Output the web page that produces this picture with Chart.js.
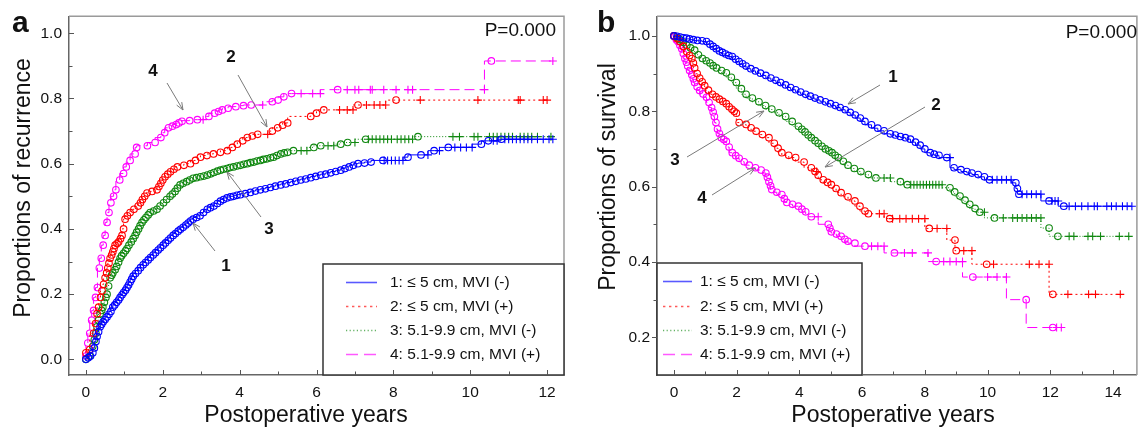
<!DOCTYPE html>
<html><head><meta charset="utf-8">
<script src="https://cdn.jsdelivr.net/npm/chart.js@4.4.1/dist/chart.umd.min.js"></script>
<style>
html,body{margin:0;padding:0;background:#fff;}
body{width:1142px;height:431px;overflow:hidden;position:relative;}
#ca{position:absolute;left:0;top:0;}
#cb{position:absolute;left:580px;top:0;}
</style></head>
<body>
<canvas id="ca" width="580" height="431"></canvas>
<canvas id="cb" width="562" height="431"></canvas>
<script>
// ---------- Panel a: recurrence (events as [years, proportion]; censored times) ----------
const aXTicks = [0, 2, 4, 6, 8, 10, 12];
const aYTicks = [0.0, 0.2, 0.4, 0.6, 0.8, 1.0];
// 1: <=5 cm, MVI (-)
const a1Events = [[0,0],[0.06,0.005],[0.12,0.01],[0.18,0.02],[0.22,0.035],[0.26,0.055],[0.29,0.07],[0.33,0.085],[0.37,0.10],[0.41,0.108],[0.45,0.115],[0.5,0.122],[0.55,0.13],[0.6,0.138],[0.65,0.147],[0.7,0.16],[0.75,0.167],[0.8,0.175],[0.85,0.182],[0.89,0.19],[0.94,0.198],[0.98,0.205],[1.03,0.212],[1.07,0.22],[1.11,0.228],[1.15,0.237],[1.19,0.246],[1.23,0.255],[1.29,0.263],[1.36,0.272],[1.42,0.281],[1.49,0.29],[1.55,0.297],[1.62,0.305],[1.68,0.312],[1.75,0.32],[1.81,0.327],[1.88,0.335],[1.94,0.342],[2.01,0.35],[2.07,0.357],[2.14,0.365],[2.2,0.372],[2.27,0.38],[2.33,0.386],[2.4,0.393],[2.46,0.399],[2.53,0.405],[2.6,0.412],[2.66,0.418],[2.72,0.424],[2.79,0.43],[2.88,0.435],[2.97,0.44],[3.06,0.45],[3.16,0.46],[3.24,0.465],[3.33,0.47],[3.42,0.478],[3.5,0.485],[3.58,0.49],[3.67,0.495],[3.76,0.498],[3.84,0.5],[3.93,0.503],[4.02,0.505],[4.15,0.508],[4.28,0.512],[4.41,0.516],[4.54,0.52],[4.67,0.523],[4.8,0.527],[4.93,0.531],[5.07,0.535],[5.2,0.538],[5.33,0.542],[5.46,0.546],[5.59,0.55],[5.72,0.553],[5.85,0.557],[5.98,0.561],[6.11,0.565],[6.24,0.568],[6.37,0.572],[6.5,0.576],[6.63,0.58],[6.74,0.585],[6.85,0.59],[6.96,0.595],[7.08,0.60],[7.25,0.602],[7.42,0.605],[7.73,0.61],[8.38,0.62],[8.72,0.627],[9.06,0.64],[9.43,0.65],[10.29,0.66],[10.47,0.67],[10.81,0.675]];
const a1Cens = [7.76,7.85,7.95,8.05,8.15,8.25,8.9,9.2,9.6,9.75,9.9,10.05,10.6,10.7,10.9,11.0,11.1,11.2,11.3,11.4,11.5,11.6,11.75,11.9,12.05,12.15];
// 2: <=5 cm, MVI (+)
const a2Events = [[0,0.02],[0.1,0.03],[0.2,0.08],[0.25,0.11],[0.29,0.14],[0.33,0.16],[0.38,0.19],[0.42,0.21],[0.46,0.23],[0.5,0.25],[0.54,0.265],[0.57,0.28],[0.6,0.295],[0.63,0.31],[0.67,0.32],[0.7,0.33],[0.73,0.34],[0.76,0.35],[0.81,0.355],[0.85,0.36],[0.9,0.37],[0.94,0.38],[0.98,0.40],[1.02,0.43],[1.08,0.44],[1.15,0.45],[1.25,0.46],[1.36,0.47],[1.42,0.48],[1.47,0.49],[1.53,0.50],[1.59,0.51],[1.72,0.515],[1.85,0.52],[1.9,0.53],[1.95,0.54],[2.0,0.55],[2.06,0.56],[2.13,0.568],[2.2,0.575],[2.29,0.583],[2.38,0.59],[2.55,0.595],[2.72,0.60],[2.85,0.61],[2.98,0.62],[3.15,0.625],[3.32,0.63],[3.5,0.635],[3.68,0.64],[3.81,0.65],[3.94,0.66],[4.08,0.67],[4.2,0.68],[4.33,0.685],[4.47,0.69],[4.85,0.70],[4.99,0.71],[5.12,0.718],[5.25,0.725],[5.85,0.745],[6.0,0.755],[6.19,0.765],[7.08,0.78],[8.07,0.795]];
const a2Cens = [4.73,6.6,6.8,6.95,7.3,7.5,7.65,7.8,8.7,10.2,11.25,11.3,11.9,12.0];
// 3: 5.1-9.9 cm, MVI (-)
const a3Events = [[0,0],[0.1,0.01],[0.18,0.04],[0.22,0.06],[0.26,0.08],[0.29,0.10],[0.33,0.12],[0.37,0.14],[0.41,0.15],[0.44,0.16],[0.48,0.175],[0.52,0.19],[0.55,0.20],[0.59,0.225],[0.63,0.25],[0.67,0.258],[0.7,0.265],[0.76,0.275],[0.8,0.285],[0.85,0.298],[0.89,0.31],[0.93,0.318],[0.98,0.325],[1.03,0.333],[1.07,0.34],[1.12,0.35],[1.18,0.36],[1.23,0.37],[1.28,0.38],[1.32,0.39],[1.37,0.40],[1.41,0.41],[1.46,0.42],[1.51,0.428],[1.56,0.435],[1.62,0.443],[1.67,0.45],[1.76,0.455],[1.85,0.46],[1.93,0.47],[2.02,0.48],[2.1,0.49],[2.19,0.50],[2.25,0.507],[2.32,0.515],[2.38,0.525],[2.45,0.535],[2.53,0.54],[2.62,0.545],[2.7,0.55],[2.79,0.555],[2.88,0.557],[2.98,0.56],[3.07,0.562],[3.16,0.565],[3.25,0.569],[3.33,0.573],[3.42,0.577],[3.5,0.58],[3.58,0.583],[3.67,0.585],[3.75,0.588],[3.84,0.59],[3.93,0.593],[4.02,0.595],[4.11,0.598],[4.2,0.60],[4.28,0.603],[4.37,0.605],[4.45,0.608],[4.54,0.61],[4.62,0.613],[4.71,0.615],[4.8,0.618],[4.88,0.62],[4.97,0.625],[5.07,0.63],[5.16,0.633],[5.25,0.635],[5.4,0.64],[5.93,0.65],[6.11,0.655],[6.63,0.66],[6.81,0.665],[7.28,0.675],[8.64,0.683]];
const a3Cens = [5.6,5.75,6.3,6.45,7.0,7.35,7.45,7.55,7.65,7.75,7.85,7.95,8.1,8.2,8.3,8.4,8.5,9.55,9.72,10.1,10.2,10.5,10.6,10.7,10.8,10.9,11.0,11.1,11.3,11.4,11.5,11.6,11.75,12.1];
// 4: 5.1-9.9 cm, MVI (+)
const a4Events = [[0,0.01],[0.05,0.05],[0.1,0.08],[0.15,0.12],[0.2,0.15],[0.25,0.19],[0.3,0.22],[0.35,0.28],[0.4,0.31],[0.45,0.35],[0.5,0.38],[0.55,0.42],[0.6,0.45],[0.65,0.48],[0.72,0.50],[0.78,0.52],[0.88,0.55],[0.98,0.57],[1.05,0.59],[1.15,0.61],[1.28,0.63],[1.32,0.65],[1.6,0.655],[1.8,0.665],[1.95,0.68],[2.05,0.695],[2.15,0.71],[2.25,0.715],[2.35,0.72],[2.42,0.725],[2.5,0.73],[2.7,0.732],[2.9,0.735],[3.2,0.745],[3.35,0.755],[3.45,0.76],[3.55,0.765],[3.7,0.77],[3.9,0.775],[4.1,0.778],[4.3,0.78],[4.85,0.79],[5.0,0.795],[5.15,0.805],[5.35,0.815],[6.55,0.827],[10.55,0.915]];
const a4Cens = [3.05,4.6,5.6,5.9,6.1,6.8,7.0,7.1,7.4,7.45,7.75,8.07,8.38,8.5,10.37,12.15];

// ---------- Panel b: survival ----------
const bXTicks = [0, 2, 4, 6, 8, 10, 12, 14];
const bYTicks = [0.2, 0.4, 0.6, 0.8, 1.0];
const b1Events = [[0,1.0],[0.1,0.999],[0.2,0.997],[0.3,0.995],[0.4,0.994],[0.5,0.992],[0.62,0.99],[0.75,0.988],[0.9,0.987],[1.04,0.985],[1.15,0.978],[1.25,0.972],[1.35,0.966],[1.45,0.96],[1.55,0.956],[1.65,0.952],[1.75,0.948],[1.86,0.945],[1.97,0.938],[2.08,0.932],[2.19,0.926],[2.3,0.92],[2.45,0.913],[2.6,0.907],[2.76,0.901],[2.93,0.895],[3.09,0.888],[3.25,0.882],[3.4,0.876],[3.56,0.87],[3.72,0.863],[3.88,0.857],[4.04,0.851],[4.2,0.845],[4.35,0.84],[4.5,0.835],[4.66,0.83],[4.83,0.825],[4.99,0.82],[5.15,0.815],[5.3,0.81],[5.46,0.804],[5.62,0.797],[5.78,0.79],[5.94,0.782],[6.09,0.773],[6.3,0.764],[6.5,0.755],[6.7,0.748],[6.9,0.74],[7.06,0.737],[7.22,0.733],[7.38,0.73],[7.54,0.726],[7.7,0.718],[7.85,0.71],[8.0,0.70],[8.17,0.69],[8.3,0.686],[8.45,0.683],[8.7,0.677],[8.93,0.65],[9.15,0.645],[9.34,0.64],[9.5,0.636],[9.7,0.632],[9.9,0.626],[10.06,0.618],[10.9,0.61],[10.95,0.595],[11.0,0.58],[11.96,0.562],[12.43,0.548]];
const b1Cens = [8.8,10.15,10.3,10.45,10.6,10.75,11.1,11.25,11.4,11.55,11.7,12.05,12.15,12.25,12.6,12.8,13.0,13.2,13.4,13.5,13.8,13.95,14.1,14.3,14.45,14.6];
const b2Events = [[0,1.0],[0.1,0.993],[0.19,0.985],[0.3,0.972],[0.41,0.958],[0.5,0.948],[0.57,0.94],[0.62,0.928],[0.66,0.915],[0.74,0.9],[0.82,0.888],[0.9,0.878],[0.98,0.868],[1.1,0.856],[1.23,0.845],[1.34,0.838],[1.45,0.832],[1.56,0.826],[1.67,0.82],[1.76,0.812],[1.85,0.805],[1.92,0.8],[1.99,0.795],[2.08,0.77],[2.3,0.765],[2.46,0.756],[2.62,0.747],[2.82,0.738],[3.03,0.73],[3.2,0.715],[3.32,0.702],[3.44,0.69],[3.66,0.683],[3.88,0.677],[4.15,0.665],[4.38,0.65],[4.5,0.64],[4.6,0.63],[4.76,0.618],[4.9,0.611],[5.02,0.605],[5.17,0.595],[5.33,0.584],[5.55,0.573],[5.77,0.562],[5.93,0.548],[6.09,0.535],[6.2,0.528],[6.88,0.515],[8.14,0.489],[8.96,0.458],[9.0,0.43],[9.97,0.394],[12.08,0.314]];
const b2Cens = [4.55,6.55,6.7,6.97,7.2,7.4,7.6,7.8,8.0,8.39,8.7,9.24,9.5,10.19,11.33,11.64,11.96,12.56,13.22,13.44,14.23];
const b3Events = [[0,1.0],[0.1,0.995],[0.19,0.99],[0.3,0.983],[0.41,0.975],[0.53,0.968],[0.66,0.962],[0.78,0.95],[0.91,0.94],[1.03,0.934],[1.15,0.928],[1.25,0.921],[1.36,0.915],[1.52,0.908],[1.67,0.902],[1.83,0.89],[1.99,0.876],[2.15,0.86],[2.3,0.845],[2.5,0.835],[2.71,0.825],[2.92,0.815],[3.12,0.806],[3.35,0.796],[3.56,0.786],[3.77,0.773],[3.97,0.76],[4.08,0.752],[4.18,0.745],[4.28,0.737],[4.38,0.73],[4.5,0.722],[4.6,0.715],[4.72,0.707],[4.83,0.70],[4.94,0.695],[5.04,0.69],[5.14,0.683],[5.24,0.677],[5.4,0.667],[5.55,0.657],[5.75,0.648],[5.96,0.64],[6.2,0.632],[6.44,0.623],[7.22,0.613],[7.44,0.605],[8.8,0.597],[8.95,0.586],[9.12,0.575],[9.28,0.564],[9.43,0.553],[9.6,0.542],[9.75,0.532],[10.22,0.517],[11.96,0.49],[12.24,0.468]];
const b3Cens = [6.7,6.9,7.55,7.65,7.75,7.85,7.95,8.05,8.15,8.25,8.35,8.45,8.55,9.9,10.5,10.8,10.95,11.1,11.25,11.4,11.55,11.7,12.6,12.75,13.2,13.35,13.6,14.2,14.5];
const b4Events = [[0,1.0],[0.03,0.997],[0.08,0.99],[0.13,0.985],[0.19,0.975],[0.25,0.966],[0.3,0.953],[0.35,0.94],[0.4,0.93],[0.44,0.92],[0.5,0.908],[0.57,0.897],[0.62,0.886],[0.66,0.876],[0.74,0.865],[0.82,0.855],[0.93,0.846],[1.04,0.837],[1.12,0.823],[1.2,0.81],[1.25,0.798],[1.29,0.786],[1.34,0.77],[1.39,0.753],[1.45,0.741],[1.51,0.73],[1.59,0.725],[1.67,0.72],[1.76,0.705],[1.86,0.69],[1.97,0.682],[2.08,0.675],[2.24,0.666],[2.4,0.657],[2.6,0.65],[2.78,0.644],[2.93,0.636],[2.98,0.625],[3.03,0.613],[3.08,0.602],[3.12,0.592],[3.28,0.585],[3.44,0.579],[3.52,0.568],[3.6,0.558],[3.78,0.553],[3.97,0.548],[4.08,0.54],[4.2,0.533],[4.38,0.52],[4.92,0.50],[4.97,0.49],[5.02,0.48],[5.18,0.474],[5.33,0.468],[5.45,0.46],[5.55,0.455],[5.77,0.45],[6.09,0.442],[7.03,0.424],[8.36,0.401],[9.53,0.36],[11.23,0.30],[12.08,0.226]];
const b4Cens = [4.6,6.3,6.5,6.7,7.35,7.6,8.1,8.6,8.8,9.0,9.2,10.0,10.3,10.6,12.2,12.35];

const seriesLabels = ['1: \u2264 5 cm, MVI (-)', '2: \u2264 5 cm, MVI (+)', '3: 5.1-9.9 cm, MVI (-)', '4: 5.1-9.9 cm, MVI (+)'];
const seriesColors = ['#0000ff', '#ff0000', '#118811', '#ff00ff'];
const seriesDash = [[], [2, 3], [1, 2], [10, 5]];

const FONT = "'Liberation Sans', Arial, Helvetica, sans-serif";

function build(E, C) {
  const pts = E.map(e => ({x: e[0], y: e[1], c: false}));
  C.forEach(t => {
    let v = E[0][1];
    for (let i = 0; i < E.length; i++) { if (E[i][0] <= t) v = E[i][1]; }
    pts.push({x: t, y: v, c: true});
  });
  pts.sort((p, q) => (p.x - q.x) || (p.c - q.c));
  return pts;
}

function makeDatasets(list) {
  return list.map((s, k) => ({
    label: seriesLabels[k],
    data: build(s[0], s[1]),
    showLine: true,
    stepped: 'after',
    borderColor: seriesColors[k],
    borderWidth: 1,
    borderDash: seriesDash[k],
    pointStyle: ctx => (ctx.raw && ctx.raw.c) ? 'cross' : 'circle',
    pointRadius: ctx => (ctx.raw && ctx.raw.c) ? 4 : 3.3,
    pointBorderWidth: 1.1,
    pointBorderColor: seriesColors[k],
    pointBackgroundColor: 'rgba(255,255,255,0)',
    fill: false
  }));
}

function decoPlugin(cfg) {
  return {
    id: 'deco_' + cfg.id,
    afterDatasetsDraw(chart) {
      const ctx = chart.ctx, ca = chart.chartArea;
      const xs = chart.scales.x, ys = chart.scales.y;
      ctx.save();
      ctx.strokeStyle = '#9a9a9a'; ctx.lineWidth = 1.5; ctx.setLineDash([]);
      ctx.beginPath();
      ctx.moveTo(ca.left, ca.top); ctx.lineTo(ca.right, ca.top); ctx.lineTo(ca.right, ca.bottom);
      ctx.stroke();
      const L = cfg.legend;
      ctx.fillStyle = '#fff';
      ctx.fillRect(L.x, L.y, L.w, L.h);
      ctx.strokeStyle = '#333'; ctx.lineWidth = 1.5;
      ctx.strokeRect(L.x, L.y, L.w, L.h);
      ctx.font = '15.5px ' + FONT; ctx.textBaseline = 'middle'; ctx.textAlign = 'left'; ctx.fillStyle = '#111';
      for (let k = 0; k < 4; k++) {
        const y = L.rows[k];
        ctx.strokeStyle = seriesColors[k]; ctx.globalAlpha = 0.65; ctx.lineWidth = 1.6; ctx.setLineDash(seriesDash[k].map(d => d * 1.2));
        ctx.beginPath(); ctx.moveTo(L.s0, y + 0.5); ctx.lineTo(L.s1, y + 0.5); ctx.stroke();
        ctx.globalAlpha = 1; ctx.setLineDash([]);
        ctx.fillText(seriesLabels[k], L.tx, y + 1);
      }
      ctx.strokeStyle = '#555'; ctx.lineWidth = 1;
      for (let v = Math.ceil(xs.min); v <= xs.max; v++) {
        const px = Math.round(xs.getPixelForValue(v)) + 0.5;
        const len = (v % 2 === 0) ? 5 : 3.5;
        ctx.beginPath(); ctx.moveTo(px, ca.bottom); ctx.lineTo(px, ca.bottom - len); ctx.stroke();
      }
      for (let i = Math.ceil(ys.min * 10 + 0.01); i <= Math.floor(ys.max * 10); i++) {
        const py = Math.round(ys.getPixelForValue(i / 10)) + 0.5;
        const len = (i % 2 === 0) ? 5 : 3.5;
        ctx.beginPath(); ctx.moveTo(ca.left, py); ctx.lineTo(ca.left + cfg.yTickDir * len, py); ctx.stroke();
      }
      ctx.strokeStyle = '#7a7a7a'; ctx.lineWidth = 1;
      cfg.arrows.forEach(a => {
        const [x1, y1, x2, y2] = a;
        ctx.beginPath(); ctx.moveTo(x1, y1); ctx.lineTo(x2, y2); ctx.stroke();
        const ang = Math.atan2(y2 - y1, x2 - x1), h = 8, s = 0.38;
        ctx.beginPath();
        ctx.moveTo(x2 - h * Math.cos(ang - s), y2 - h * Math.sin(ang - s));
        ctx.lineTo(x2, y2);
        ctx.lineTo(x2 - h * Math.cos(ang + s), y2 - h * Math.sin(ang + s));
        ctx.stroke();
      });
      ctx.fillStyle = '#111'; ctx.font = 'bold 17px ' + FONT; ctx.textAlign = 'center'; ctx.textBaseline = 'middle';
      cfg.nums.forEach(n => ctx.fillText(n[0], n[1], n[2]));
      ctx.font = '19px ' + FONT; ctx.textAlign = 'right'; ctx.textBaseline = 'alphabetic';
      ctx.fillText('P=0.000', cfg.p[0], cfg.p[1]);
      ctx.font = 'bold 30px ' + FONT; ctx.textAlign = 'left';
      ctx.fillText(cfg.letter, cfg.letterPos[0], cfg.letterPos[1]);
      ctx.font = '23px ' + FONT; ctx.textAlign = 'center';
      ctx.fillText('Postoperative years', cfg.xt[0], cfg.xt[1]);
      ctx.save();
      ctx.translate(cfg.yt[0], cfg.yt[1]); ctx.rotate(-Math.PI / 2);
      ctx.fillText(cfg.ytitle, 0, 0);
      ctx.restore();
      ctx.restore();
    }
  };
}

function makeChart(el, o) {
  return new Chart(document.getElementById(el), {
    type: 'scatter',
    data: {datasets: makeDatasets(o.series)},
    options: {
      responsive: false, animation: false, devicePixelRatio: 1,
      layout: {padding: o.pad},
      plugins: {legend: {display: false}, tooltip: {enabled: false}},
      scales: {
        x: {
          type: 'linear', min: o.xmin, max: o.xmax,
          grid: {display: false, drawTicks: false},
          border: {display: true, color: '#666', width: 1.5},
          afterBuildTicks: s => { s.ticks = o.xticks.map(v => ({value: v})); },
          afterFit: s => { s.height = 56; },
          ticks: {padding: 8, color: '#111', font: {family: FONT, size: 15.5}, callback: v => String(v)}
        },
        y: {
          type: 'linear', min: o.ymin, max: o.ymax,
          grid: {display: false, drawTicks: false},
          border: {display: true, color: '#666', width: 1.5},
          afterBuildTicks: s => { s.ticks = o.yticks.map(v => ({value: v})); },
          afterFit: s => { s.width = o.yw; },
          ticks: {padding: o.ypad, color: '#111', font: {family: FONT, size: 15.5}, callback: v => Number(v).toFixed(1)}
        }
      }
    },
    plugins: [decoPlugin(o.deco)]
  });
}

makeChart('ca', {
  series: [[a1Events, a1Cens], [a2Events, a2Cens], [a3Events, a3Cens], [a4Events, a4Cens]],
  xmin: -0.44, xmax: 12.44, ymin: -0.048, ymax: 1.052,
  xticks: aXTicks, yticks: aYTicks, yw: 69, ypad: 7,
  pad: {top: 12, right: 16, left: 0, bottom: 0},
  deco: {
    id: 'a', yTickDir: 1,
    legend: {x: 323, y: 264, w: 241, h: 111, rows: [282, 306, 330, 354], s0: 346, s1: 377, tx: 390},
    arrows: [[167, 83, 183, 110], [238, 75, 267, 127], [261, 217, 227, 172], [215, 251, 193, 223]],
    nums: [['4', 153, 71], ['2', 231, 57], ['3', 269, 229], ['1', 226, 266]],
    p: [556, 36], letter: 'a', letterPos: [12, 32],
    xt: [306, 422], yt: [30, 188], ytitle: 'Proportions of recurrence'
  }
});

makeChart('cb', {
  series: [[b1Events, b1Cens], [b2Events, b2Cens], [b3Events, b3Cens], [b4Events, b4Cens]],
  xmin: -0.54, xmax: 14.76, ymin: 0.1, ymax: 1.052,
  xticks: bXTicks, yticks: bYTicks, yw: 77, ypad: 7,
  pad: {top: 7, right: 0, left: 0, bottom: 0},
  deco: {
    id: 'b', yTickDir: -1,
    legend: {x: 77, y: 263, w: 205, h: 112, rows: [281, 306, 330, 354], s0: 83, s1: 112, tx: 120},
    arrows: [[300, 85, 268, 104], [345, 107, 245, 167], [107, 157, 184, 111], [132, 195, 175, 168]],
    nums: [['1', 313, 77], ['2', 356, 105], ['3', 95, 160], ['4', 122, 198]],
    p: [557, 38], letter: 'b', letterPos: [17, 32],
    xt: [313, 422], yt: [35, 177], ytitle: 'Proportions of survival'
  }
});
</script>
</body></html>
